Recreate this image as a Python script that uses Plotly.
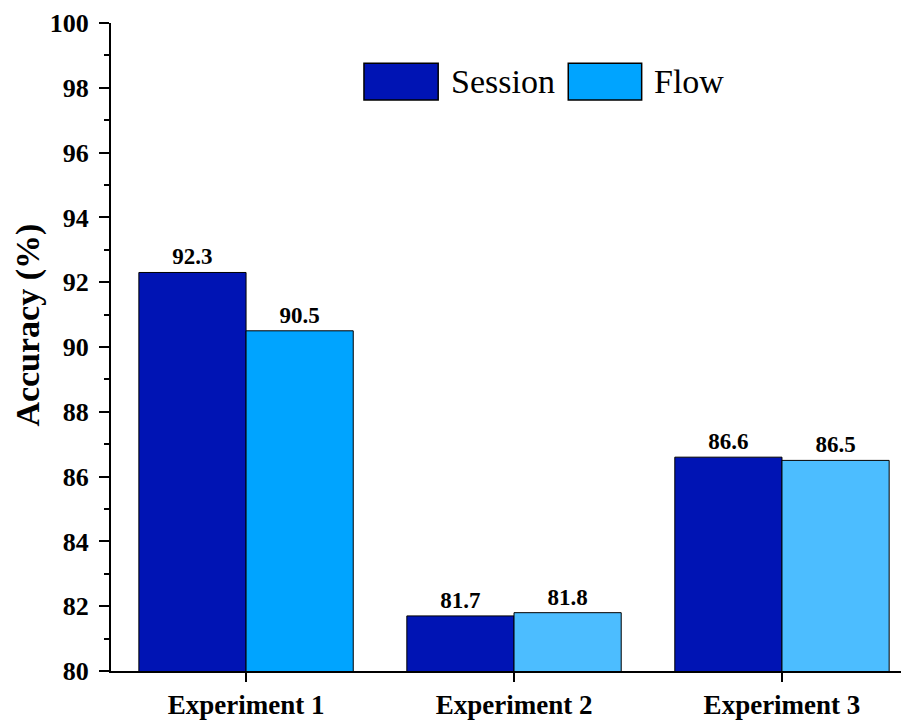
import plotly.graph_objects as go

categories = ["Experiment 1", "Experiment 2", "Experiment 3"]
session = [92.3, 81.7, 86.6]
flow = [90.5, 81.8, 86.5]
series_names = ["Session", "Flow"]
y_title = "Accuracy (%)"

session_color = "#0014B4"
flow_colors = ["#00A4FF", "#4CBDFF", "#4CBDFF"]

x_idx = list(range(len(categories)))
FONT = "Liberation Serif"

fig = go.Figure()
fig.add_trace(go.Bar(
    x=x_idx, y=session, name=series_names[0],
    marker=dict(color=session_color, line=dict(color="black", width=1)),
    text=[f"{v:.1f}" for v in session], textposition="outside",
    texttemplate="<b>%{text}</b>",
    textfont=dict(family=FONT, size=23, color="black"),
    cliponaxis=False,
))
fig.add_trace(go.Bar(
    x=x_idx, y=flow, name=series_names[1],
    marker=dict(color=flow_colors, line=dict(color="black", width=1)),
    text=[f"{v:.1f}" for v in flow], textposition="outside",
    texttemplate="<b>%{text}</b>",
    textfont=dict(family=FONT, size=23, color="black"),
    cliponaxis=False,
))

fig.update_layout(
    width=901, height=715,
    margin=dict(l=103, r=0, t=15, b=52),
    plot_bgcolor="white", paper_bgcolor="white",
    barmode="group", bargap=0.2, bargroupgap=0,
    showlegend=False,
    font=dict(family=FONT, color="black"),
    xaxis=dict(
        range=[-0.504, 2.474],
        tickmode="array", tickvals=x_idx, ticktext=[f"<b>{c}</b>" for c in categories],
        ticks="outside", ticklen=9, tickwidth=2, tickcolor="black",
        showline=True, linecolor="black", linewidth=2,
        showgrid=False, zeroline=False,
        tickfont=dict(family=FONT, size=27, color="black"),
    ),
    yaxis=dict(
        range=[80, 100],
        tickmode="array", tickvals=list(range(80, 101, 2)),
        ticktext=[f"<b>{v}</b>" for v in range(80, 101, 2)],
        ticks="outside", ticklen=10, tickwidth=2, tickcolor="black",
        ticklabelstandoff=5,
        minor=dict(tickvals=list(range(81, 100, 2)), ticks="outside", ticklen=5, tickwidth=2, tickcolor="black"),
        showline=True, linecolor="black", linewidth=2,
        showgrid=False, zeroline=False,
        tickfont=dict(family=FONT, size=26, color="black"),
    ),
)

# y-axis title placed as annotation (offset upward as in the reference)
fig.add_annotation(xref="paper", yref="paper", x=-0.104, y=0.533, xanchor="center", yanchor="middle",
                   text=f"<b>{y_title}</b>", textangle=-90, showarrow=False,
                   font=dict(family=FONT, size=34, color="black"))

# manual legend
legend_items = [(0.317, 0.410, session_color, series_names[0]), (0.573, 0.665, flow_colors[0], series_names[1])]
for x0, x1, col, name in legend_items:
    fig.add_shape(type="rect", xref="paper", yref="paper", x0=x0, x1=x1, y0=0.881, y1=0.938,
                  fillcolor=col, line=dict(color="black", width=1.5))
    fig.add_annotation(xref="paper", yref="paper", x=x1 + 0.013, y=0.909, xanchor="left", yanchor="middle",
                       text=name, showarrow=False, font=dict(family=FONT, size=34, color="black"))

fig.write_html("out.html")
